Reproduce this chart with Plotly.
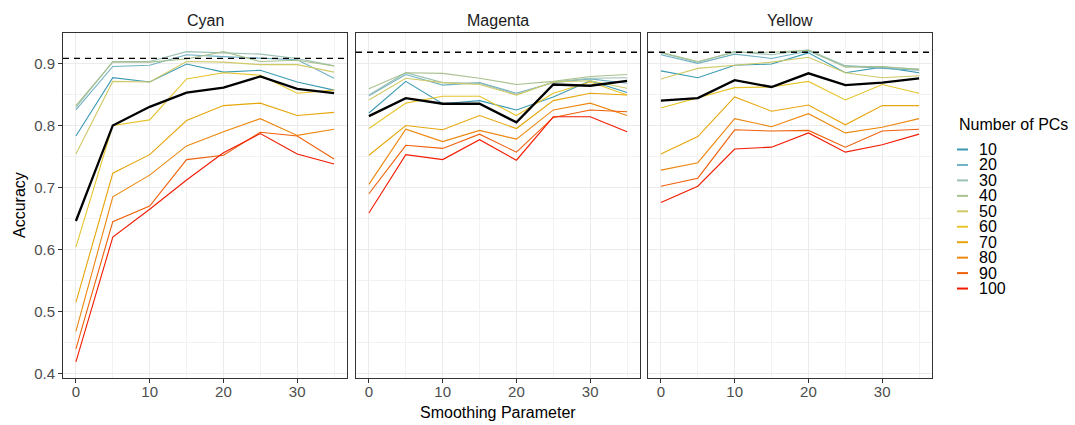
import plotly.graph_objects as go

# ---- data -------------------------------------------------------------
smoothing = [0, 5, 10, 15, 20, 25, 30, 35]
n_pcs = [10, 20, 30, 40, 50, 60, 70, 80, 90, 100]
channels = ["Cyan", "Magenta", "Yellow"]

# accuracy per number of PCs (rows follow n_pcs), columns follow smoothing
cyan_acc = [
    [0.783, 0.877, 0.870, 0.899, 0.886, 0.889, 0.870, 0.857],
    [0.825, 0.895, 0.897, 0.914, 0.911, 0.908, 0.906, 0.876],
    [0.829, 0.903, 0.903, 0.919, 0.917, 0.915, 0.908, 0.896],
    [0.832, 0.902, 0.902, 0.907, 0.919, 0.903, 0.905, 0.896],
    [0.754, 0.871, 0.870, 0.903, 0.902, 0.898, 0.898, 0.886],
    [0.604, 0.800, 0.809, 0.875, 0.885, 0.881, 0.852, 0.857],
    [0.515, 0.723, 0.753, 0.808, 0.832, 0.836, 0.816, 0.821],
    [0.468, 0.685, 0.720, 0.767, 0.790, 0.811, 0.784, 0.794],
    [0.440, 0.645, 0.670, 0.745, 0.752, 0.789, 0.783, 0.746],
    [0.419, 0.620, 0.665, 0.712, 0.756, 0.787, 0.754, 0.738],
]
magenta_acc = [
    [0.820, 0.871, 0.835, 0.840, 0.825, 0.846, 0.872, 0.853],
    [0.848, 0.882, 0.865, 0.869, 0.852, 0.869, 0.875, 0.868],
    [0.849, 0.885, 0.869, 0.868, 0.850, 0.870, 0.876, 0.877],
    [0.859, 0.885, 0.884, 0.876, 0.866, 0.871, 0.879, 0.882],
    [0.841, 0.876, 0.869, 0.866, 0.849, 0.870, 0.872, 0.860],
    [0.795, 0.836, 0.847, 0.847, 0.816, 0.852, 0.870, 0.849],
    [0.752, 0.800, 0.793, 0.816, 0.795, 0.840, 0.852, 0.849],
    [0.705, 0.794, 0.774, 0.792, 0.778, 0.825, 0.836, 0.816],
    [0.690, 0.768, 0.763, 0.786, 0.757, 0.813, 0.825, 0.822],
    [0.659, 0.753, 0.745, 0.777, 0.744, 0.814, 0.814, 0.790],
]
yellow_acc = [
    [0.888, 0.877, 0.897, 0.899, 0.917, 0.885, 0.894, 0.885],
    [0.914, 0.900, 0.915, 0.908, 0.920, 0.896, 0.892, 0.889],
    [0.917, 0.902, 0.919, 0.914, 0.922, 0.896, 0.894, 0.891],
    [0.918, 0.903, 0.918, 0.918, 0.921, 0.894, 0.895, 0.890],
    [0.875, 0.892, 0.897, 0.902, 0.910, 0.885, 0.877, 0.880],
    [0.828, 0.845, 0.861, 0.862, 0.871, 0.841, 0.866, 0.852],
    [0.754, 0.782, 0.846, 0.823, 0.833, 0.801, 0.832, 0.832],
    [0.728, 0.740, 0.811, 0.798, 0.819, 0.788, 0.797, 0.811],
    [0.702, 0.715, 0.793, 0.791, 0.792, 0.765, 0.791, 0.794],
    [0.676, 0.702, 0.762, 0.765, 0.788, 0.757, 0.769, 0.786],
]

# combined model (thick black line)
cyan_combined = [0.646, 0.800, 0.830, 0.853, 0.861, 0.879, 0.859, 0.852]
magenta_combined = [0.815, 0.844, 0.835, 0.835, 0.805, 0.866, 0.864, 0.872]
yellow_combined = [0.840, 0.844, 0.873, 0.862, 0.884, 0.865, 0.869, 0.876]

# reference accuracy (dashed line) per channel
reference_acc = [0.908, 0.918, 0.918]

y_ticks = [0.4, 0.5, 0.6, 0.7, 0.8, 0.9]
x_ticks = [0, 10, 20, 30]

pc_colors = ["#3B9AB2", "#6FB1C2", "#9BC0B5", "#A9C18F", "#CFC968",
             "#E7C42A", "#E6A60C", "#EC870F", "#EE600A", "#F21A00"]

# ---- figure -----------------------------------------------------------
FONT = "Liberation Sans"
W, H = 1075, 425
ML, MR, MT, MB = 63, 143, 33, 47
PW, PH = W - ML - MR, H - MT - MB

panel_px = [(63, 347), (356, 640), (648, 932)]
domains = [[(a - ML) / PW, (b - ML) / PW] for a, b in panel_px]


def px_to_paper_x(px):
    return (px - ML) / PW


def px_to_paper_y(py):
    return (H - MB - py) / PH


fig = go.Figure()

acc_by_channel = [cyan_acc, magenta_acc, yellow_acc]
combined_by_channel = [cyan_combined, magenta_combined, yellow_combined]

for k, ch in enumerate(channels):
    xa = "x" if k == 0 else f"x{k + 1}"
    ya = "y" if k == 0 else f"y{k + 1}"
    for i, pc in enumerate(n_pcs):
        fig.add_trace(go.Scatter(
            x=smoothing, y=acc_by_channel[k][i], mode="lines",
            line=dict(color=pc_colors[i], width=1.1),
            name=str(pc), showlegend=False, xaxis=xa, yaxis=ya,
        ))
    fig.add_trace(go.Scatter(
        x=smoothing, y=combined_by_channel[k], mode="lines",
        line=dict(color="black", width=2.3),
        showlegend=False, xaxis=xa, yaxis=ya,
    ))
    fig.add_shape(
        type="line", xref=f"{xa} domain", yref=ya,
        x0=0, x1=1, y0=reference_acc[k], y1=reference_acc[k],
        line=dict(color="black", width=1.3, dash="6px,5px"),
    )
    # facet title
    fig.add_annotation(
        text=ch, xref=f"{xa} domain", yref="paper", x=0.5,
        y=px_to_paper_y(20.5), yanchor="middle", showarrow=False,
        font=dict(family=FONT, size=16, color="#1A1A1A"),
    )

axis_common = dict(
    showline=True, mirror=True, linecolor="#333333", linewidth=1,
    showgrid=True, gridcolor="#EBEBEB", gridwidth=1.1, zeroline=False,
    tickfont=dict(family=FONT, size=15, color="#4D4D4D"),
    ticklen=4, tickwidth=1, tickcolor="#333333", automargin=False,
)

for k in range(3):
    sx = "" if k == 0 else str(k + 1)
    fig.layout[f"xaxis{sx}"] = dict(
        axis_common, domain=domains[k], anchor=f"y{sx}",
        range=[-1.75, 36.75], tickvals=x_ticks, ticks="outside",
        ticklabelstandoff=-4,
        minor=dict(tickvals=[5, 15, 25, 35], showgrid=True,
                   gridcolor="#F2F2F2", gridwidth=0.6),
    )
    fig.layout[f"yaxis{sx}"] = dict(
        axis_common, anchor=f"x{sx}", range=[0.393, 0.949],
        tickvals=y_ticks, ticktext=[f"{v:.1f}" for v in y_ticks],
        ticks="outside" if k == 0 else "",
        showticklabels=(k == 0),
        minor=dict(tickvals=[0.45, 0.55, 0.65, 0.75, 0.85], showgrid=True,
                   gridcolor="#F2F2F2", gridwidth=0.6),
    )
    if k > 0:
        fig.layout[f"yaxis{sx}"].matches = "y"

# axis titles
fig.add_annotation(
    text="Smoothing Parameter", xref="paper", yref="paper",
    x=px_to_paper_x(497.5), y=px_to_paper_y(412),
    xanchor="center", yanchor="middle", showarrow=False,
    font=dict(family=FONT, size=16, color="black"),
)
fig.add_annotation(
    text="Accuracy", xref="paper", yref="paper", textangle=-90,
    x=px_to_paper_x(19.5), y=px_to_paper_y(205.5),
    xanchor="center", yanchor="middle", showarrow=False,
    font=dict(family=FONT, size=16, color="black"),
)

# legend drawn as keys + labels to the right of the panels
leg_key_x0, leg_key_x1, leg_text_x = 957, 968, 977
leg_title_y, leg_first_y, leg_step = 124, 149.5, 15.45

fig.add_annotation(
    text="Number of PCs", xref="paper", yref="paper",
    x=px_to_paper_x(leg_key_x0), y=px_to_paper_y(leg_title_y),
    xanchor="left", yanchor="middle", showarrow=False,
    font=dict(family=FONT, size=16, color="black"),
)
for i, pc in enumerate(n_pcs):
    yy = px_to_paper_y(leg_first_y + i * leg_step)
    fig.add_shape(
        type="line", xref="paper", yref="paper",
        x0=px_to_paper_x(leg_key_x0), x1=px_to_paper_x(leg_key_x1),
        y0=yy, y1=yy, line=dict(color=pc_colors[i], width=2),
    )
    fig.add_annotation(
        text=str(pc), xref="paper", yref="paper",
        x=px_to_paper_x(leg_text_x), y=yy,
        xanchor="left", yanchor="middle", showarrow=False,
        font=dict(family=FONT, size=16, color="black"),
    )

fig.update_layout(
    width=W, height=H,
    margin=dict(l=ML, r=MR, t=MT, b=MB),
    paper_bgcolor="white", plot_bgcolor="white",
    font=dict(family=FONT),
    showlegend=False,
)

fig.write_html("out.html")
